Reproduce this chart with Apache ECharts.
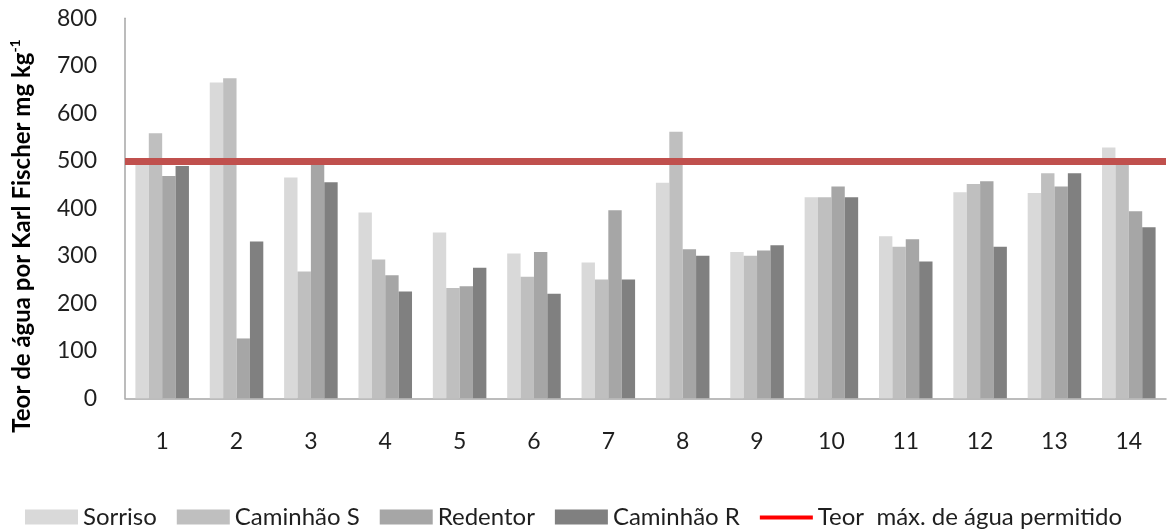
<!DOCTYPE html>
<html>
<head>
<meta charset="utf-8">
<title>Teor de água por Karl Fischer</title>
<script src="https://cdn.jsdelivr.net/npm/echarts@6/dist/echarts.min.js"></script>
<style>
  html, body { margin: 0; padding: 0; background: #fff; }
  #chart { width: 1170px; height: 531px; }
</style>
</head>
<body>
<div id="chart"></div>
<script>
// Amostras 1 a 14
const categories = ['1', '2', '3', '4', '5', '6', '7', '8', '9', '10', '11', '12', '13', '14'];

// Teor de água (mg kg-1) por local de coleta
const sorriso   = [500, 665, 465, 391, 349, 305, 286, 454, 308, 423, 341, 434, 432, 528];
const caminhaoS = [558, 674, 267, 292, 232, 256, 250, 561, 300, 423, 319, 451, 474, 497];
const redentor  = [468, 126, 495, 259, 236, 308, 396, 314, 311, 446, 335, 457, 446, 394];
const caminhaoR = [489, 330, 455, 225, 275, 220, 250, 300, 322, 423, 288, 319, 474, 360];

// Limite máximo permitido
const limite = 500;

const yTicks = [0, 100, 200, 300, 400, 500, 600, 700, 800];

const FONT = 'Lato, "Open Sans", sans-serif';
const TXT = '#1f1f1f';

const barNames  = ['Sorriso', 'Caminhão S', 'Redentor', 'Caminhão R'];
const barData   = [sorriso, caminhaoS, redentor, caminhaoR];
const barColors = ['#d9d9d9', '#bfbfbf', '#a6a6a6', '#808080'];
const limitName = 'Teor  máx. de água permitido';

const chart = echarts.init(document.getElementById('chart'), null, { renderer: 'canvas' });

const series = barNames.map((name, i) => ({
  name: name,
  type: 'bar',
  data: barData[i],
  barGap: '0%',
  barCategoryGap: '28%',
  itemStyle: { color: barColors[i] },
  emphasis: { disabled: true },
  z: 2
}));

series.push({
  name: limitName,
  type: 'line',
  data: [],
  symbol: 'none',
  itemStyle: { color: '#ff0000' },
  lineStyle: { color: '#ff0000', width: 4 },
  markLine: {
    silent: true,
    symbol: ['none', 'none'],
    label: { show: false },
    lineStyle: { color: '#c0504d', width: 7, type: 'solid', opacity: 1 },
    data: [{ yAxis: limite }]
  },
  z: 5
});

chart.setOption({
  animation: false,
  backgroundColor: '#ffffff',
  textStyle: { fontFamily: FONT },
  grid: { left: 125, right: 4, top: 18.3, bottom: 132.7, containLabel: false },
  xAxis: {
    type: 'category',
    data: categories,
    axisLine: { lineStyle: { color: '#a6a6a6', width: 1.5 } },
    axisTick: { show: false },
    axisLabel: { color: TXT, fontSize: 23, fontFamily: FONT, margin: 32 }
  },
  yAxis: {
    type: 'value',
    min: yTicks[0],
    max: yTicks[yTicks.length - 1],
    interval: 100,
    axisLine: { show: true, lineStyle: { color: '#a6a6a6', width: 1.5 } },
    axisTick: { show: false },
    splitLine: { show: false },
    axisLabel: { color: TXT, fontSize: 23, fontFamily: FONT, margin: 28 }
  },
  legend: {
    left: 20,
    top: 500,
    itemWidth: 53,
    itemHeight: 15,
    itemGap: 20,
    textStyle: { color: TXT, fontSize: 24, fontFamily: FONT },
    data: barNames.map(n => ({ name: n, icon: 'rect' })).concat([{
      name: limitName,
      icon: 'path://M0,0 M0,6 L53,6 L53,10 L0,10 Z M53,15',
      itemStyle: { color: '#ff0000' }
    }])
  },
  graphic: [{
    type: 'text',
    x: 22,
    y: 236,
    rotation: Math.PI / 2,
    style: {
      text: '{a|Teor de água por Karl Fischer mg kg}{s|-1}',
      align: 'center',
      verticalAlign: 'middle',
      rich: {
        a: { fontSize: 24, fontWeight: 'bold', fontFamily: FONT, fill: '#000', lineHeight: 28 },
        s: { fontSize: 14, fontWeight: 'bold', fontFamily: FONT, fill: '#000', verticalAlign: 'top', lineHeight: 28, padding: [0, 0, 10, 0] }
      }
    }
  }],
  series: series
});
</script>
</body>
</html>
